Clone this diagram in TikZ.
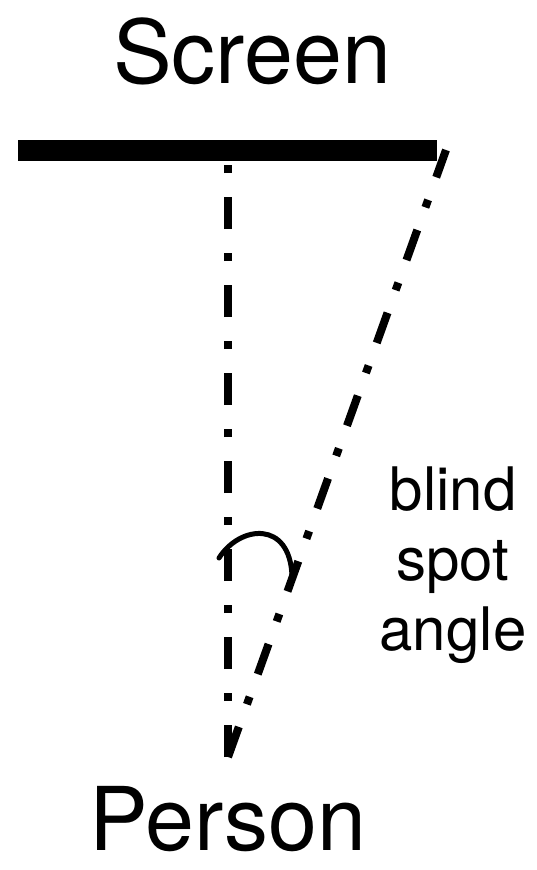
\documentclass[tikz,border=0pt]{standalone}
\usepackage{fontspec}
\setmainfont{TeX Gyre Heros}

\begin{document}
\begin{tikzpicture}[
    x=1pt, y=-1pt,
    bigtext/.style={font=\fontsize{88}{100}\selectfont, inner sep=0pt, anchor=base},
    screenbar/.style={line width=21pt},
    sightline/.style={line width=8pt, dash pattern=on 32pt off 24pt on 8pt off 24pt},
    anglearc/.style={line width=5pt, line cap=round},
    anglelabel/.style={font=\fontsize{60}{70}\selectfont, align=center, inner sep=0pt}
]
\useasboundingbox (0,0) rectangle (537,870);

% Key points
\coordinate (barL) at (18,150.5);
\coordinate (barR) at (437,150.5);
\coordinate (centre) at (228,161);
\coordinate (edge) at (446,150);
\coordinate (person) at (228,757);
\coordinate (arcL) at (219,558);
\coordinate (arcR) at (292,576);

% Screen and person labels
\node[bigtext] (screen) at (252,83) {Screen};
\node[bigtext] (viewer) at (228,850) {Person};

% The screen
\draw[screenbar] (barL) -- (barR);

% Lines of sight
\draw[sightline] (person) -- (centre);
\draw[sightline] (person) -- (edge);

% Angle between them
\draw[anglearc] (arcL) .. controls (240,525) and (290,520) .. (arcR);
\node[anglelabel] (blindspot) at (453,565) {blind\\spot\\angle};

\end{tikzpicture}
\end{document}
